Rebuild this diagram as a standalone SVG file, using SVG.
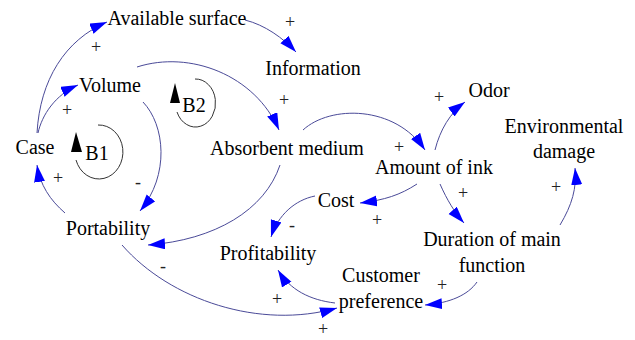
<svg xmlns="http://www.w3.org/2000/svg" width="635" height="340" viewBox="0 0 635 340">
<style>
.t{font-family:"Liberation Serif","Times New Roman",serif;font-size:20px;fill:#000;text-anchor:middle}
.s{font-family:"Liberation Serif","Times New Roman",serif;font-size:18px;fill:#222;text-anchor:middle}
.c{fill:none;stroke:#4a4a98;stroke-width:1;marker-end:url(#ah)}
.loop{fill:none;stroke:#333;stroke-width:1}
</style>
<defs>
<marker id="ah" markerUnits="userSpaceOnUse" markerWidth="18" markerHeight="12" refX="17" refY="5.5" orient="auto">
<path d="M0,0 L17,5.5 L0,11 z" fill="#0000ff"/>
</marker>
</defs>
<rect width="635" height="340" fill="#fff"/>
<g id="connectors">
<path class="c" d="M37,133 C40,80 65,40 107,22"/>
<path class="c" d="M38,133 C42,115 55,95 78,85"/>
<path class="c" d="M245,20 C265,25 283,38 296,52"/>
<path class="c" d="M137,67 C190,50 255,75 279,130"/>
<path class="c" d="M143,102 C165,125 170,175 140,211"/>
<path class="c" d="M280,165 C265,210 215,240 148,245"/>
<path class="c" d="M65,213 C50,200 40,185 37,165"/>
<path class="c" d="M122,245 C170,300 260,330 337,308"/>
<path class="c" d="M303,130 C330,105 395,105 425,150"/>
<path class="c" d="M435,150 C440,130 450,113 465,102"/>
<path class="c" d="M417,184 C400,195 385,200 360,203"/>
<path class="c" d="M440,184 C447,200 455,213 464,223"/>
<path class="c" d="M560,225 C572,205 577,188 575,168"/>
<path class="c" d="M477,282 C468,295 450,303 425,305"/>
<path class="c" d="M315,196 C295,200 278,215 271,237"/>
<path class="c" d="M335,303 C310,300 290,290 278,270"/>
</g>
<g id="polarities">
<text class="s" x="96" y="53">+</text>
<text class="s" x="67" y="116">+</text>
<text class="s" x="290" y="28">+</text>
<text class="s" x="284" y="106">+</text>
<text class="s" x="138" y="188">-</text>
<text class="s" x="58" y="184">+</text>
<text class="s" x="163" y="272">-</text>
<text class="s" x="323" y="335">+</text>
<text class="s" x="399" y="153">+</text>
<text class="s" x="439" y="103">+</text>
<text class="s" x="377" y="226">+</text>
<text class="s" x="463" y="199">+</text>
<text class="s" x="556" y="193">+</text>
<text class="s" x="442" y="291">+</text>
<text class="s" x="292" y="231">-</text>
<text class="s" x="277" y="305">+</text>
</g>
<g id="loop-B1">
<path class="loop" d="M98,125 A24,27 0 1 1 76,160"/>
<path d="M71,152 L76,132 L82,152 z" fill="#000"/>
<text class="t" x="97" y="160">B1</text>
</g>
<g id="loop-B2">
<path class="loop" d="M195,79 A20,24 0 1 1 177,112"/>
<path d="M170,103 L175,83 L180,103 z" fill="#000"/>
<text class="t" x="194" y="112">B2</text>
</g>
<g id="node-available-surface"><text class="t" x="177" y="25">Available surface</text></g>
<g id="node-information"><text class="t" x="313" y="75">Information</text></g>
<g id="node-volume"><text class="t" x="110" y="92">Volume</text></g>
<g id="node-case"><text class="t" x="35" y="154">Case</text></g>
<g id="node-absorbent-medium"><text class="t" x="287" y="155">Absorbent medium</text></g>
<g id="node-odor"><text class="t" x="489" y="97">Odor</text></g>
<g id="node-environmental-damage"><text class="t" x="564" y="133">Environmental</text><text class="t" x="564" y="158">damage</text></g>
<g id="node-amount-of-ink"><text class="t" x="434" y="174">Amount of ink</text></g>
<g id="node-cost"><text class="t" x="336" y="207">Cost</text></g>
<g id="node-portability"><text class="t" x="108" y="235">Portability</text></g>
<g id="node-profitability"><text class="t" x="268" y="260">Profitability</text></g>
<g id="node-duration"><text class="t" x="492" y="246">Duration of main</text><text class="t" x="492" y="272">function</text></g>
<g id="node-customer-preference"><text class="t" x="381" y="282">Customer</text><text class="t" x="381" y="308">preference</text></g>
</svg>
